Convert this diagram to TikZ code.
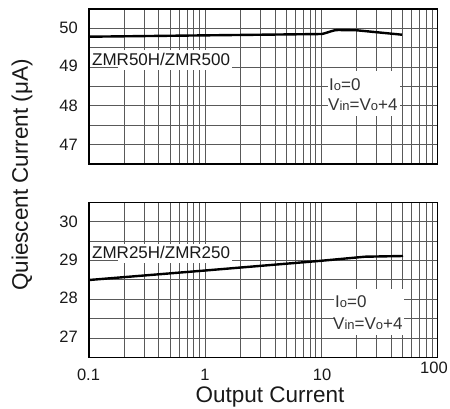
\documentclass[tikz,border=0pt]{standalone}
\usepackage{fontspec}
\setmainfont{Liberation Sans}
\newcommand\smsub[1]{{\fontsize{13}{13}\selectfont #1}}
\begin{document}
\begin{tikzpicture}[x=1pt,y=-1pt,
  gridln/.style={black!65,line width=0.8pt},
  framebox/.style={black,line width=1.3pt},
  curveln/.style={black,line width=2.4pt,line join=round},
  ticklab/.style={font=\fontsize{16.5}{16.5}\selectfont,text=black!90,inner sep=0pt},
  axtitle/.style={font=\fontsize{22.5}{22.5}\selectfont,text=black!90,inner sep=0pt},
  partlab/.style={font=\fontsize{17}{17}\selectfont,text=black!90,inner sep=0pt,anchor=west},
  condlab/.style={font=\fontsize{17}{17}\selectfont,text=black!80,inner sep=0pt,anchor=west},
  blank/.style={fill=white,draw=none}]
\useasboundingbox (0,0) rectangle (450,408);
\foreach \tp in {9,202.3}{
  % vertical log grid
  \foreach \d in {0,1,2}{
    \foreach \i in {2,...,9}{
      \draw[gridln] ({89+116.1*(\d+log10(\i))},\tp) -- ++(0,155);
    }
  }
  \foreach \d in {1,2}{
    \draw[gridln] ({89+116.1*\d},\tp) -- ++(0,155);
  }
  % horizontal grid
  \foreach \k in {1,...,7}{
    \draw[gridln] (89,{\tp+\k*19.375}) -- (437.3,{\tp+\k*19.375});
  }
}
% curves
\coordinate (a0) at (89,36.7);
\coordinate (a1) at (322,34);
\coordinate (a2) at (338,30);
\coordinate (a3) at (357,30.3);
\coordinate (a4) at (402,34.7);
\draw[curveln] (a0) -- (a1) .. controls (330,32) and (333,30) .. (a2) -- (a3) -- (a4);
\coordinate (b0) at (89,280);
\coordinate (b1) at (205,270.5);
\coordinate (b2) at (322,260.7);
\coordinate (b3) at (365,256.7);
\coordinate (b4) at (403,256);
\draw[curveln] (b0) -- (b1) -- (b2) -- (b3) -- (b4);
% white label backgrounds
\fill[blank] (91,50) rectangle (232,67);
\fill[blank] (118,50) rectangle (232,70);
\fill[blank] (328,71) rectangle (400,116);
\fill[blank] (91,244) rectangle (232,259);
\fill[blank] (118,244) rectangle (232,263);
\fill[blank] (334,289) rectangle (404,335);
% frames
\draw[framebox] (89,9) rectangle (437.3,164);
\draw[framebox] (89,202.3) rectangle (437.3,357.3);
% part labels
\node[partlab] (p1) at (92,59.5) {ZMR50H/ZMR500};
\node[partlab] (p2) at (92,252.5) {ZMR25H/ZMR250};
\node[condlab] (c1) at (329,85) {I\smsub{o}=0};
\node[condlab] (c2) at (328,105) {V\smsub{in}=V\smsub{o}+4};
\node[condlab] (c3) at (335,302) {I\smsub{o}=0};
\node[condlab] (c4) at (333,324) {V\smsub{in}=V\smsub{o}+4};
% y tick labels
\node[ticklab,anchor=east] (y50) at (78,28) {50};
\node[ticklab,anchor=east] (y49) at (78,65.5) {49};
\node[ticklab,anchor=east] (y48) at (78,106) {48};
\node[ticklab,anchor=east] (y47) at (78,144.5) {47};
\node[ticklab,anchor=east] (y30) at (78,221.5) {30};
\node[ticklab,anchor=east] (y29) at (78,259.5) {29};
\node[ticklab,anchor=east] (y28) at (78,298) {28};
\node[ticklab,anchor=east] (y27) at (78,337) {27};
% x tick labels
\node[ticklab] (x01) at (88.5,375) {0.1};
\node[ticklab] (x1) at (205,375) {1};
\node[ticklab] (x10) at (322,375) {10};
\node[ticklab] (x100) at (434,368) {100};
% axis titles
\node[axtitle,anchor=base] (xt) at (270,402) {Output Current};
\node[axtitle,rotate=90] (yt) at (22,175) {Quiescent Current (μA)};
\end{tikzpicture}
\end{document}
